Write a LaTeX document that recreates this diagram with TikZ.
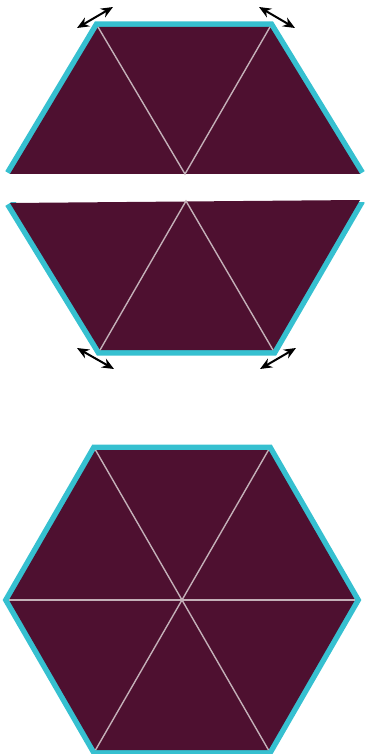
\documentclass[tikz,border=0pt]{standalone}
\usetikzlibrary{arrows.meta}
\definecolor{plum}{HTML}{4E1030}
\definecolor{rim}{HTML}{36C0D0}
\definecolor{seam}{HTML}{C4B0B8}

\begin{document}
\begin{tikzpicture}[x=1pt, y=-1pt,
    piece/.style={fill=plum},
    rimline/.style={draw=rim, line width=11pt, line join=miter},
    seamline/.style={draw=seam, line width=1.4pt},
    hinge/.style={{Stealth[length=12pt,width=10pt]}-{Stealth[length=12pt,width=10pt]}, line width=2pt}
]
\useasboundingbox (0,0) rectangle (365,754);

% upper half
\coordinate (uA) at (98,27);
\coordinate (uB) at (270,27);
\coordinate (uC) at (360,174);
\coordinate (uD) at (10,174);
\coordinate (uM) at (185,174);
\begin{scope}
\clip (0,0) rectangle (365,174);
\draw[rimline] (uD) -- (uA) -- (uB) -- (uC);
\end{scope}
\fill[piece] (uA) -- (uB) -- (uC) -- (uD) -- cycle;
\draw[seamline] (uA) -- (uM) -- (uB);

% lower half
\coordinate (lA) at (10,203);
\coordinate (lB) at (360,200);
\coordinate (lC) at (273,350);
\coordinate (lD) at (100,350);
\coordinate (lM) at (186,201);
\begin{scope}
\clip (0,202) rectangle (365,400);
\draw[rimline] (lA) -- (lD) -- (lC) -- (lB);
\end{scope}
\fill[piece] (lA) -- (lB) -- (lC) -- (lD) -- cycle;
\draw[seamline] (lD) -- (lM) -- (lC);

% hinge arrows
\coordinate (h1a) at (77,28);  \coordinate (h1b) at (113,7);
\coordinate (h2a) at (259,7);  \coordinate (h2b) at (295,28);
\coordinate (h3a) at (77,348); \coordinate (h3b) at (114,369);
\coordinate (h4a) at (260,369); \coordinate (h4b) at (296,348);
\draw[hinge] (h1a) -- (h1b);
\draw[hinge] (h2a) -- (h2b);
\draw[hinge] (h3a) -- (h3b);
\draw[hinge] (h4a) -- (h4b);

% assembled hexagon
\coordinate (hO) at (182,600);
\coordinate (h0) at (355,600);
\coordinate (h60) at (268.5,450);
\coordinate (h120) at (95.5,450);
\coordinate (h180) at (9,600);
\coordinate (h240) at (95.5,750);
\coordinate (h300) at (268.5,750);
\draw[rimline] (h0) -- (h60) -- (h120) -- (h180) -- (h240) -- (h300) -- cycle;
\fill[piece] (h0) -- (h60) -- (h120) -- (h180) -- (h240) -- (h300) -- cycle;
\draw[seamline] (h0) -- (h180);
\draw[seamline] (h60) -- (h240);
\draw[seamline] (h120) -- (h300);
\end{tikzpicture}
\end{document}
